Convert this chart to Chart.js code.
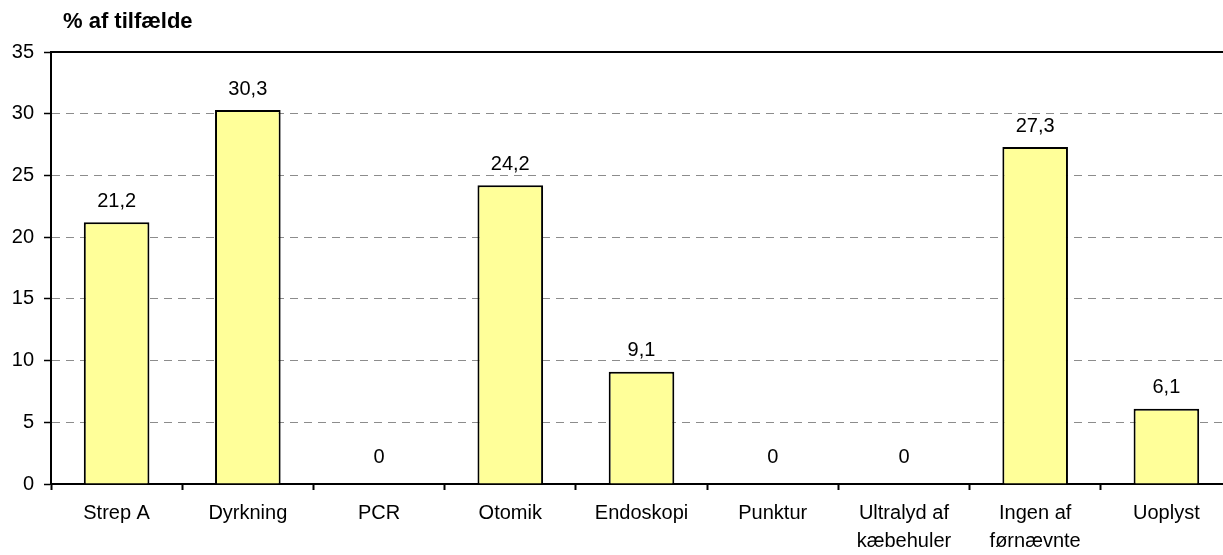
<!DOCTYPE html>
<html>
<head>
<meta charset="utf-8">
<script src="https://cdn.jsdelivr.net/npm/chart.js@4/dist/chart.umd.min.js"></script>
<style>
  html, body { margin: 0; padding: 0; background: #fff; overflow: hidden; }
  #wrap { width: 1232px; height: 555px; }
</style>
</head>
<body>
<div id="wrap"><canvas id="chart"></canvas></div>
<script>
const categories = [
  'Strep A', 'Dyrkning', 'PCR', 'Otomik', 'Endoskopi', 'Punktur',
  ['Ultralyd af', 'kæbehuler'], ['Ingen af', 'førnævnte'], 'Uoplyst'
]
const percentages = [21.2, 30.3, 0, 24.2, 9.1, 0, 0, 27.3, 6.1]
const yTicks = [0, 5, 10, 15, 20, 25, 30, 35]
const axisTitle = '% af tilfælde'

const FONT = "'Liberation Sans', Arial, sans-serif"

// value labels above each bar, decimal comma
const barLabels = {
  id: 'barLabels',
  afterDatasetsDraw(chart) {
    const ctx = chart.ctx
    const meta = chart.getDatasetMeta(0)
    ctx.save()
    ctx.font = '20px ' + FONT
    ctx.fillStyle = '#000'
    ctx.textAlign = 'center'
    ctx.textBaseline = 'middle'
    meta.data.forEach((bar, i) => {
      const v = percentages[i]
      const txt = v === 0 ? '0' : v.toFixed(1).replace('.', ',')
      const gap = v === 0 ? 27 : 21
      ctx.fillText(txt, bar.x, bar.y - gap)
    })
    ctx.restore()
  }
}

// solid frame line along the top of the plot + axis caption
const frameAndCaption = {
  id: 'frameAndCaption',
  afterDraw(chart) {
    const {ctx, chartArea} = chart
    ctx.save()
    ctx.strokeStyle = '#000'
    ctx.lineWidth = 2
    ctx.beginPath()
    ctx.moveTo(chartArea.left - 1, chartArea.top)
    ctx.lineTo(chartArea.right, chartArea.top)
    ctx.stroke()

    ctx.font = 'bold 22px ' + FONT
    ctx.fillStyle = '#000'
    ctx.textAlign = 'left'
    ctx.textBaseline = 'middle'
    ctx.fillText(axisTitle, 63, 22)
    ctx.restore()
  }
}

new Chart(document.getElementById('chart'), {
  type: 'bar',
  data: {
    labels: categories,
    datasets: [{
      data: percentages,
      backgroundColor: '#FFFF99',
      borderColor: '#000',
      borderWidth: 2,
      borderSkipped: 'bottom',
      categoryPercentage: 1,
      barPercentage: 0.5
    }]
  },
  options: {
    responsive: true,
    maintainAspectRatio: false,
    animation: false,
    layout: { padding: { top: 52, left: 0, right: 0, bottom: 0 } },
    plugins: {
      legend: { display: false },
      tooltip: { enabled: false }
    },
    scales: {
      x: {
        grid: {
          display: true,
          drawOnChartArea: false,
          drawTicks: true,
          tickLength: 6,
          tickColor: '#000',
          tickWidth: 2,
          offset: true
        },
        border: { color: '#000', width: 2 },
        ticks: {
          color: '#000',
          font: { family: FONT, size: 20, lineHeight: 1.4 },
          padding: 9,
          maxRotation: 0,
          autoSkip: false
        },
        afterFit(scale) { scale.height = 71 }
      },
      y: {
        min: 0,
        max: 35,
        afterBuildTicks(scale) { scale.ticks = yTicks.map(v => ({ value: v })) },
        grid: {
          color: (c) => (c.tick && (c.tick.value === 0 || c.tick.value === 35)) ? 'rgba(0,0,0,0)' : '#8c8c8c',
          lineWidth: 1,
          drawTicks: true,
          tickLength: 7,
          tickColor: '#000',
          tickWidth: 1.5
        },
        border: { color: '#000', width: 2, dash: [8, 6] },
        ticks: {
          color: '#000',
          font: { family: FONT, size: 20 },
          padding: 10
        },
        afterFit(scale) { scale.width = 51 }
      }
    }
  },
  plugins: [barLabels, frameAndCaption]
})
</script>
</body>
</html>
